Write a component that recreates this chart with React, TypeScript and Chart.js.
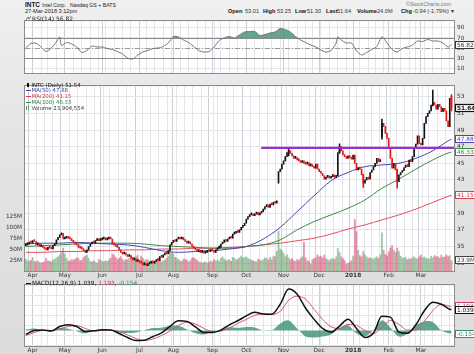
import React, { useEffect, useRef } from "react";
import { Chart, registerables } from "chart.js";

Chart.register(...registerables);

// ================= DATA =================
const START_DATE = "2017-03-28";
const END_DATE = "2018-03-27";
const HOLIDAYS = ["2017-04-14", "2017-05-29", "2017-07-04", "2017-09-04", "2017-11-23", "2017-12-25", "2018-01-01", "2018-01-15", "2018-02-19"];

// daily closes (trading days from START_DATE to END_DATE)
const closes = [
  35.2, 35.3, 35.5, 35.4,
  35.7, 35.6, 35.2, 35.3, 35.0, 35.1, 34.9, 34.7, 34.6, 34.9, 34.8, 34.7, 35.1, 35.3, 35.8, 36.1, 36.4, 36.6, 35.9,
  36.0, 36.2, 36.0, 35.9, 35.7, 35.5, 35.3, 35.2, 34.9, 34.8, 34.7, 34.5, 34.3, 34.6, 35.0, 35.3, 35.5, 35.4, 35.7, 35.8, 35.7, 35.8,
  35.9, 36.0, 35.8, 35.9, 36.0, 35.9, 35.3, 35.2, 35.0, 34.9, 34.6, 34.3, 34.1, 34.2, 34.0, 33.8, 33.9, 33.6, 33.4, 33.5, 33.2, 33.3,
  33.1, 33.0, 32.8, 32.9, 32.7, 32.9, 33.0, 33.1, 33.0, 33.2, 33.4, 33.3, 33.8, 33.7, 34.0, 34.2, 34.1, 34.5, 35.2, 35.5,
  35.7, 35.6, 35.9, 36.0, 35.9, 36.1, 35.8, 35.6, 35.4, 35.5, 35.3, 35.0, 34.8, 34.6, 34.4, 34.5, 34.3, 34.4, 34.2, 34.3, 34.5, 34.4, 34.6,
  34.5, 34.3, 34.6, 34.8, 34.9, 35.3, 35.5, 35.8, 35.6, 35.9, 36.1, 36.0, 36.5, 36.6, 36.8, 36.7, 37.0, 37.3, 37.5, 37.8,
  38.3, 38.6, 38.8, 38.9, 38.7, 38.9, 39.1, 38.8, 39.0, 39.2, 39.5, 39.8, 40.0, 39.7, 40.1, 40.0, 40.3, 40.2, 40.5, 44.0, 44.3, 44.9,
  45.3, 45.8, 46.3, 46.5, 46.2, 45.9, 45.6, 45.7, 45.4, 45.3, 45.1, 45.3, 45.0, 44.9, 45.1, 44.7, 44.8, 44.6, 44.4, 44.9, 44.3,
  44.0, 43.8, 43.5, 43.1, 43.3, 43.5, 43.2, 43.4, 43.6, 43.3, 43.5, 46.3, 47.0, 46.5, 46.0, 45.8, 45.6, 45.9, 45.7, 45.5,
  46.0, 45.0, 44.2, 44.5, 44.3, 43.6, 42.6, 43.0, 43.3, 43.1, 43.9, 44.2, 44.6, 45.0, 45.6, 45.2, 45.4, 49.8, 49.4, 48.6, 48.0,
  46.8, 45.6, 44.4, 45.0, 44.2, 42.8, 43.6, 43.9, 44.1, 44.5, 44.8, 44.6, 45.4, 45.2, 45.8, 46.8, 47.3, 48.3, 47.4,
  47.2, 48.0, 49.8, 50.6, 51.0, 51.3, 52.0, 52.3, 52.0, 51.5, 52.1, 51.8, 51.2, 51.6, 51.3, 50.1, 49.4, 52.8, 51.64,
];
const firstOpen = 35.1;
const gapOpens = [[149, 42.6], [210, 48.2], [251, 53.01]];
// notable wicks: [day, low, high]
const wicks = [[155, 45.9, 46.85], [185, 46.2, 47.35], [199, 42.1, 43.7], [219, 42.0, 44.3], [210, 47.9, 50.3], [240, 51.9, 53.8], [251, 51.3, 53.25]];

// daily volume, millions
const volumesM = [
  27, 23, 22, 25,
  31, 22, 21, 23, 20, 18, 20, 21, 29, 23, 22, 21, 25, 27, 30, 32, 36, 42, 52,
  39, 29, 23, 22, 26, 25, 27, 30, 29, 23, 25, 31, 34, 36, 29, 22, 21, 23, 20, 18, 26, 25,
  22, 21, 23, 22, 25, 29, 39, 36, 31, 26, 29, 33, 27, 23, 26, 25, 29, 34, 31, 27, 33, 36,
  20, 34, 29, 23, 26, 25, 21, 22, 23, 22, 26, 29, 22, 21, 23, 25, 29, 34, 48, 41,
  39, 31, 29, 26, 23, 22, 27, 26, 25, 21, 23, 29, 31, 27, 25, 21, 20, 18, 20, 21, 18, 20, 23,
  21, 26, 23, 25, 22, 29, 32, 27, 23, 25, 26, 22, 31, 29, 25, 27, 30, 34, 29, 31,
  32, 29, 26, 25, 23, 22, 21, 27, 25, 23, 26, 30, 29, 25, 31, 26, 34, 32, 45, 91, 50, 46,
  40, 32, 37, 30, 26, 28, 24, 22, 26, 24, 28, 32, 65, 30, 24, 22, 16, 26, 28, 30, 37,
  32, 34, 30, 36, 28, 26, 24, 27, 29, 26, 32, 51, 42, 32, 28, 24, 16, 18, 20, 24,
  34, 117, 90, 47, 35, 32, 44, 37, 32, 29, 30, 28, 27, 30, 32, 29, 37, 87, 47, 38, 34,
  44, 52, 58, 47, 42, 52, 44, 34, 30, 29, 31, 26, 28, 27, 30, 32, 29, 27, 32,
  36, 30, 32, 29, 28, 27, 34, 30, 35, 32, 33, 29, 36, 31, 32, 37, 33, 35, 24,
];

// moving averages sampled on trading-day index
const maDays = [0, 10, 20, 30, 40, 50, 60, 70, 80, 90, 100, 110, 120, 130, 140, 150, 160, 170, 180, 190, 200, 210, 220, 230, 240, 250, 251];
const ma50 = [35.3, 35.4, 35.4, 35.5, 35.4, 35.3, 35.2, 34.9, 34.5, 34.3, 34.4, 34.5, 34.7, 35.0, 35.9, 37.3, 39.2, 41.1, 42.9, 43.9, 44.6, 44.8, 45.0, 45.6, 46.5, 47.8, 47.88];
const ma100 = [35.0, 35.1, 35.2, 35.3, 35.4, 35.4, 35.4, 35.3, 35.1, 35.0, 34.9, 34.8, 34.8, 35.0, 35.2, 35.8, 37.0, 38.0, 38.8, 39.6, 40.6, 42.0, 43.1, 44.3, 45.4, 46.3, 46.33];
const ma200 = [34.3, 34.3, 34.4, 34.4, 34.5, 34.5, 34.6, 34.6, 34.7, 34.7, 34.8, 34.8, 34.9, 35.0, 35.2, 35.4, 35.7, 36.0, 36.5, 37.1, 37.6, 38.2, 38.8, 39.5, 40.3, 41.1, 41.15];

const trendStartDay = 138.8;
const trendLevel = 46.85;

const rsiDays = [0, 3, 6, 9, 12, 15, 18, 20, 21, 24, 27, 30, 33, 36, 39, 42, 45, 48, 51, 54, 57, 60, 63, 66, 69, 72, 75, 78, 81, 84, 87, 90, 93, 96, 99, 102, 105, 108, 111, 114, 117, 120, 123, 126, 129, 132, 135, 138, 141, 144, 147, 150, 153, 156, 159, 162, 165, 168, 171, 174, 177, 180, 183, 184, 186, 189, 192, 195, 198, 201, 204, 207, 210, 213, 216, 219, 222, 225, 228, 231, 234, 237, 240, 243, 246, 249, 251];
const rsiValues = [50.5, 59, 59.5, 52, 43, 50, 62, 72, 55, 61, 58, 52, 41, 45, 54, 52, 52, 49, 47, 43, 38, 30, 28, 36, 42, 45, 49, 50, 53, 60, 73, 72, 66, 61, 53, 45, 42, 43, 52, 65, 70, 73, 70, 76, 82, 83, 83, 75, 77, 80, 82, 89, 87, 82, 73, 66, 61, 56, 52, 46, 42, 45, 60, 72, 66, 60, 60, 44, 36, 41, 47, 53, 72, 60, 47, 42, 49, 52, 56, 64, 63, 67, 64, 64, 60, 52, 56.82];

const macdDays = [0, 5, 10, 15, 20, 25, 30, 35, 40, 45, 50, 55, 60, 65, 70, 75, 80, 85, 90, 95, 100, 105, 110, 115, 120, 125, 130, 135, 140, 145, 150, 155, 160, 165, 170, 175, 180, 185, 190, 195, 200, 205, 210, 215, 220, 225, 230, 235, 240, 245, 250, 251];
const macdValues = [-0.2, 0.0, 0.02, -0.03, 0.2, 0.28, 0.2, -0.05, -0.02, 0.03, 0.02, -0.15, -0.35, -0.5, -0.48, -0.3, -0.12, 0.2, 0.48, 0.45, 0.18, -0.1, -0.1, 0.02, 0.28, 0.48, 0.72, 0.9, 0.82, 0.8, 1.3, 2.05, 1.8, 1.1, 0.55, 0.1, -0.08, 0.22, 0.56, 0.1, -0.35, -0.13, 0.7, 0.66, -0.08, -0.14, 0.28, 0.98, 1.4, 1.3, 1.05, 1.039];
const signalValues = [-0.25, -0.1, 0.0, 0.0, 0.08, 0.2, 0.24, 0.1, -0.02, 0.0, 0.02, -0.05, -0.22, -0.4, -0.5, -0.42, -0.25, -0.03, 0.25, 0.4, 0.32, 0.1, -0.05, -0.03, 0.12, 0.35, 0.55, 0.75, 0.82, 0.8, 0.95, 1.5, 1.7, 1.55, 1.05, 0.55, 0.18, 0.1, 0.3, 0.25, 0.0, -0.15, 0.15, 0.5, 0.3, 0.02, 0.02, 0.45, 0.98, 1.3, 1.2, 1.193];
const histValues = [0.05, 0.1, 0.02, -0.03, 0.12, 0.08, -0.04, -0.15, 0.0, 0.03, 0.0, -0.1, -0.13, -0.1, 0.02, 0.12, 0.13, 0.23, 0.23, 0.05, -0.14, -0.2, -0.05, 0.05, 0.16, 0.13, 0.17, 0.15, 0.0, 0.0, 0.35, 0.5, 0.1, -0.3, -0.35, -0.3, -0.2, 0.12, 0.26, -0.15, -0.3, 0.02, 0.5, 0.14, -0.3, -0.16, 0.26, 0.45, 0.42, 0.0, -0.15, -0.154];

const priceTicks = [33, 34, 35, 36, 37, 38, 39, 40, 41, 42, 43, 44, 45, 46, 47, 48, 49, 50, 51, 52, 53, 54];
const volTicksM = [25, 50, 75, 100, 125];
const rsiTicks = [10, 20, 30, 40, 50, 60, 70, 80, 90];
const rsiLabels = [10, 30, 50, 70, 90];
const macdTicks = [-0.75, -0.5, -0.25, 0, 0.25, 0.5, 0.75, 1, 1.25, 1.5, 1.75, 2];
const macdLabels = [-0.5, 0, 0.5, 1, 1.5, 2];

// ================= SETUP =================
const X_MIN = -0.5;
const X_MAX = 252.5;
const MONTHS = ["Jan", "Feb", "Mar", "Apr", "May", "Jun", "Jul", "Aug", "Sep", "Oct", "Nov", "Dec"];
const FONT = "DejaVu Sans";
const GRID = "#e2e6eb";
const GRID_MONTH = "#c9cfd7";
const UP = "#111111";
const DOWN = "#e3161c";
const TEAL = "rgba(72,150,124,0.85)";

function tradingDays() {
  const out: Date[] = [];
  const hol = new Set(HOLIDAYS);
  let t = Date.parse(START_DATE + "T00:00:00Z");
  const end = Date.parse(END_DATE + "T00:00:00Z");
  while (t <= end) {
    const d = new Date(t);
    const wd = d.getUTCDay();
    if (wd !== 0 && wd !== 6 && !hol.has(d.toISOString().slice(0, 10))) out.push(d);
    t += 86400000;
  }
  return out;
}

const DATES = tradingDays();
const N = Math.min(DATES.length, closes.length);
const monthTicks = new Map<number, string>();
const gridTickValues: number[] = [];
for (let i = 1; i < N; i++) {
  const d = DATES[i];
  const p = DATES[i - 1];
  const newMonth = d.getUTCMonth() !== p.getUTCMonth();
  const newWeek = d.getUTCDay() < p.getUTCDay();
  if (newMonth) monthTicks.set(i, d.getUTCMonth() === 0 ? String(d.getUTCFullYear()) : MONTHS[d.getUTCMonth()]);
  if (newMonth || newWeek) gridTickValues.push(i);
}

const opens = closes.slice(0, N).map((c, i) => {
  const g = gapOpens.find((o) => o[0] === i);
  if (g) return g[1];
  return i === 0 ? firstOpen : closes[i - 1];
});
const isUp = (i: number) => closes[i] >= opens[i];

function xScale(showLabels: boolean) {
  return {
    type: "linear",
    min: X_MIN,
    max: X_MAX,
    offset: false,
    afterBuildTicks: (s: any) => {
      s.ticks = gridTickValues.map((v) => ({ value: v }));
    },
    afterFit: (s: any) => {
      s.height = showLabels ? 8 : 0;
    },
    border: { display: false },
    grid: {
      drawTicks: false,
      color: (c: any) => (c.tick && monthTicks.has(c.tick.value) ? GRID_MONTH : GRID),
      lineWidth: 1,
    },
    ticks: {
      display: showLabels,
      autoSkip: false,
      maxRotation: 0,
      minRotation: 0,
      padding: 1,
      color: "#333",
      font: (c: any) => ({ family: FONT, size: 5.8, weight: c.tick && c.tick.label === "2018" ? "bold" : "normal" }),
      callback: (v: any) => monthTicks.get(v) ?? "",
    },
  };
}

function yRight(min: number, max: number, ticks: number[], labels: number[], fmt: (v: number) => string) {
  return {
    type: "linear",
    position: "right",
    min,
    max,
    afterBuildTicks: (s: any) => {
      s.ticks = ticks.map((v) => ({ value: v }));
    },
    afterFit: (s: any) => {
      s.width = 20;
    },
    border: { display: false },
    grid: { drawTicks: false, color: GRID },
    ticks: {
      padding: 3,
      color: "#333",
      font: { family: FONT, size: 5.8 },
      callback: (v: any) => (labels.some((l) => Math.abs(l - v) < 1e-9) ? fmt(v) : ""),
    },
  };
}

const panelPlugin = {
  id: "panel",
  beforeDraw(chart: any) {
    const { ctx, chartArea: a } = chart;
    ctx.save();
    ctx.fillStyle = "#ffffff";
    ctx.fillRect(a.left, a.top, a.right - a.left, a.bottom - a.top);
    ctx.restore();
  },
  afterDraw(chart: any) {
    const { ctx, chartArea: a } = chart;
    ctx.save();
    ctx.strokeStyle = "#8c8c8c";
    ctx.lineWidth = 1;
    ctx.strokeRect(Math.round(a.left) - 0.5, Math.round(a.top) - 0.5, Math.round(a.right - a.left) + 1, Math.round(a.bottom - a.top) + 1);
    ctx.restore();
  },
};

function refLinesPlugin(axis: string, lines: { value: number; color: string; dash?: number[] }[]) {
  return {
    id: "refLines",
    beforeDatasetsDraw(chart: any) {
      const { ctx, chartArea: a } = chart;
      const s = chart.scales[axis];
      lines.forEach((l) => {
        const y = Math.round(s.getPixelForValue(l.value)) + 0.5;
        ctx.save();
        ctx.strokeStyle = l.color;
        ctx.lineWidth = 1;
        ctx.setLineDash(l.dash || []);
        ctx.beginPath();
        ctx.moveTo(a.left, y);
        ctx.lineTo(a.right, y);
        ctx.stroke();
        ctx.restore();
      });
    },
  };
}

function boxesPlugin(items: { axis: string; value: number; text: string; color: string; bold?: boolean }[]) {
  return {
    id: "boxes",
    afterDraw(chart: any) {
      const { ctx, chartArea: a } = chart;
      items.forEach((it) => {
        const y = Math.round(chart.scales[it.axis].getPixelForValue(it.value));
        ctx.save();
        ctx.font = `${it.bold ? "bold " : ""}5.8px "${FONT}"`;
        const w = Math.ceil(ctx.measureText(it.text).width) + 4;
        const x = Math.round(a.right) + 1;
        ctx.fillStyle = "#ffffff";
        ctx.fillRect(x, y - 4, w, 8);
        ctx.strokeStyle = it.color;
        ctx.lineWidth = it.bold ? 1.2 : 1;
        ctx.strokeRect(x + 0.5, y - 3.5, w - 1, 7);
        ctx.fillStyle = it.color;
        ctx.textBaseline = "middle";
        ctx.fillText(it.text, x + 2, y + 0.5);
        ctx.restore();
      });
    },
  };
}

const baseOptions = (padding: any) => ({
  responsive: false,
  animation: false,
  devicePixelRatio: 1,
  events: [],
  layout: { padding },
  plugins: { legend: { display: false }, tooltip: { enabled: false } },
});

function rsiConfig(): any {
  return {
    type: "line",
    data: {
      datasets: [
        {
          data: rsiDays.map((d, i) => ({ x: d, y: rsiValues[i] })),
          borderColor: "#747474",
          borderWidth: 1,
          pointRadius: 0,
          tension: 0.25,
          fill: { value: 70, above: TEAL, below: "rgba(0,0,0,0)" },
        },
      ],
    },
    options: {
      ...baseOptions({ left: 25, top: 1, bottom: 1, right: 0 }),
      scales: {
        x: xScale(false),
        y: yRight(-1, 103, rsiTicks, rsiLabels, (v) => String(v)),
      },
    },
    plugins: [
      panelPlugin,
      refLinesPlugin("y", [
        { value: 70, color: "#8a8a8a" },
        { value: 30, color: "#8a8a8a" },
        { value: 50, color: "#9a9a9a", dash: [5, 2, 1, 2] },
      ]),
      boxesPlugin([{ axis: "y", value: 56.82, text: "56.82", color: "#333" }]),
    ],
  };
}

function mainConfig(): any {
  const idx = Array.from({ length: N }, (_, i) => i);
  return {
    type: "bar",
    data: {
      datasets: [
        {
          type: "line",
          data: [
            { x: trendStartDay, y: trendLevel },
            { x: X_MAX, y: trendLevel },
          ],
          borderColor: "#9a2fcc",
          borderWidth: 2.4,
          pointRadius: 0,
          yAxisID: "y",
          order: 0,
        },
        {
          type: "bar",
          data: wicks.map((w) => ({ x: w[0], y: [w[1], w[2]] })),
          backgroundColor: wicks.map((w) => (isUp(w[0]) ? UP : DOWN)),
          barThickness: 0.9,
          grouped: false,
          yAxisID: "y",
          order: 1,
        },
        {
          type: "bar",
          data: idx.map((i) => ({ x: i, y: [opens[i], closes[i]] })),
          backgroundColor: idx.map((i) => (isUp(i) ? UP : DOWN)),
          barThickness: 1,
          minBarLength: 2,
          grouped: false,
          yAxisID: "y",
          order: 1,
        },
        {
          type: "line",
          data: maDays.map((d, i) => ({ x: d, y: ma50[i] })),
          borderColor: "#4646b4",
          borderWidth: 1,
          pointRadius: 0,
          cubicInterpolationMode: "monotone",
          yAxisID: "y",
          order: 2,
        },
        {
          type: "line",
          data: maDays.map((d, i) => ({ x: d, y: ma100[i] })),
          borderColor: "#3f8a42",
          borderWidth: 1,
          pointRadius: 0,
          cubicInterpolationMode: "monotone",
          yAxisID: "y",
          order: 2,
        },
        {
          type: "line",
          data: maDays.map((d, i) => ({ x: d, y: ma200[i] })),
          borderColor: "#e2505e",
          borderWidth: 1,
          pointRadius: 0,
          cubicInterpolationMode: "monotone",
          yAxisID: "y",
          order: 2,
        },
        {
          type: "bar",
          data: idx.map((i) => ({ x: i, y: volumesM[i] })),
          backgroundColor: idx.map((i) => (i > 0 && closes[i] < closes[i - 1] ? "rgba(212,72,108,0.58)" : "rgba(96,156,104,0.58)")),
          barThickness: 1.2,
          grouped: false,
          yAxisID: "yVol",
          order: 5,
        },
      ],
    },
    options: {
      ...baseOptions({ left: 0, top: 1, bottom: 0, right: 0 }),
      scales: {
        x: xScale(true),
        y: yRight(32.06, 54.23, priceTicks, priceTicks, (v) => String(v)),
        yVol: {
          type: "linear",
          position: "left",
          min: 0,
          max: 420,
          afterBuildTicks: (s: any) => {
            s.ticks = volTicksM.map((v) => ({ value: v }));
          },
          afterFit: (s: any) => {
            s.width = 25;
          },
          border: { display: false },
          grid: { display: false, drawTicks: false },
          ticks: {
            padding: 3,
            color: "#333",
            font: { family: FONT, size: 5.8 },
            callback: (v: any) => `${v}M`,
          },
        },
      },
    },
    plugins: [
      panelPlugin,
      boxesPlugin([
        { axis: "y", value: 41.15, text: "41.15", color: "#d9404e" },
        { axis: "y", value: 46.33, text: "46.33", color: "#3f8a42" },
        { axis: "y", value: 47.88, text: "47.88", color: "#4646b4" },
        { axis: "y", value: 51.64, text: "51.64", color: "#111", bold: true },
        { axis: "yVol", value: 23.9, text: "23.9M", color: "#444" },
      ]),
    ],
  };
}

function macdConfig(): any {
  return {
    type: "line",
    data: {
      datasets: [
        {
          data: macdDays.map((d, i) => ({ x: d, y: histValues[i] })),
          borderWidth: 0,
          borderColor: "rgba(0,0,0,0)",
          backgroundColor: TEAL,
          pointRadius: 0,
          tension: 0.3,
          fill: "origin",
          order: 3,
        },
        {
          data: macdDays.map((d, i) => ({ x: d, y: signalValues[i] })),
          borderColor: "#d45872",
          borderWidth: 1,
          pointRadius: 0,
          cubicInterpolationMode: "monotone",
          order: 2,
        },
        {
          data: macdDays.map((d, i) => ({ x: d, y: macdValues[i] })),
          borderColor: "#111",
          borderWidth: 1.5,
          pointRadius: 0,
          cubicInterpolationMode: "monotone",
          order: 1,
        },
      ],
    },
    options: {
      ...baseOptions({ left: 25, top: 1, bottom: 0, right: 0 }),
      scales: {
        x: xScale(true),
        y: yRight(-0.77, 2.23, macdTicks, macdLabels, (v) => v.toFixed(1)),
      },
    },
    plugins: [
      panelPlugin,
      boxesPlugin([
        { axis: "y", value: 1.193, text: "1.193", color: "#c8405a" },
        { axis: "y", value: 1.039, text: "1.039", color: "#111" },
        { axis: "y", value: -0.154, text: "-0.154", color: "#2f8f74" },
      ]),
    ],
  };
}

function ChartCanvas({ top, height, make }: { top: number; height: number; make: () => any }) {
  const ref = useRef<HTMLCanvasElement>(null);
  useEffect(() => {
    const chart = new Chart(ref.current as HTMLCanvasElement, make());
    return () => chart.destroy();
  }, []);
  return (
    <canvas
      ref={ref}
      width={474}
      height={height}
      style={{ position: "absolute", left: 0, top, width: 474, height }}
    />
  );
}

function T({ x, y, size = 5.8, color = "#222", weight = "normal", family = FONT, children }: any) {
  return (
    <span
      style={{
        position: "absolute",
        left: x,
        top: y - size * 0.62,
        fontSize: size,
        lineHeight: 1.2,
        color,
        fontWeight: weight,
        fontFamily: family,
        whiteSpace: "nowrap",
      }}
    >
      {children}
    </span>
  );
}

function Dash({ x, y, color, w = 5, h = 1.4 }: any) {
  return <span style={{ position: "absolute", left: x, top: y - h / 2, width: w, height: h, background: color }} />;
}

const SANS = '"Liberation Sans", Arial, sans-serif';

export default function App() {
  return (
    <div
      style={{
        position: "fixed",
        left: 0,
        top: 0,
        width: 474,
        height: 354,
        overflow: "hidden",
        background: "linear-gradient(to bottom, #f0f0f0 0%, #e4e4e4 40%, #dcdcdc 100%)",
      }}
    >
      <ChartCanvas top={15} height={65} make={rsiConfig} />
      <ChartCanvas top={80} height={199} make={mainConfig} />
      <ChartCanvas top={279} height={75} make={macdConfig} />

      {/* header */}
      <T x={25} y={5} size={6.4} weight="bold" color="#111" family={SANS}>INTC</T>
      <T x={42} y={5.4} size={5.2} color="#222" family={SANS}>Intel Corp.</T>
      <T x={70} y={5.4} size={5.2} color="#222" family={SANS}>Nasdaq GS + BATS</T>
      <T x={25} y={11.6} size={5.6} color="#222" family={SANS}>27-Mar-2018 3:12pm</T>
      <T x={406} y={4.6} size={5.4} color="#777" family={SANS}>©StockCharts.com</T>

      <T x={228} y={11.6} size={5.6} weight="bold" color="#111" family={SANS}>Open</T>
      <T x={245} y={11.6} size={5.6} color="#333" family={SANS}>53.01</T>
      <T x={263} y={11.6} size={5.6} weight="bold" color="#111" family={SANS}>High</T>
      <T x={277} y={11.6} size={5.6} color="#333" family={SANS}>53.25</T>
      <T x={295} y={11.6} size={5.6} weight="bold" color="#111" family={SANS}>Low</T>
      <T x={307} y={11.6} size={5.6} color="#333" family={SANS}>51.30</T>
      <T x={326} y={11.6} size={5.6} weight="bold" color="#111" family={SANS}>Last</T>
      <T x={337} y={11.6} size={5.6} color="#333" family={SANS}>51.64</T>
      <T x={357} y={11.6} size={5.6} weight="bold" color="#111" family={SANS}>Volume</T>
      <T x={377} y={11.6} size={5.6} color="#333" family={SANS}>24.0M</T>
      <T x={401} y={11.6} size={5.6} weight="bold" color="#111" family={SANS}>Chg</T>
      <T x={413} y={11.6} size={5.6} color="#333" family={SANS}>-0.94 (-1.79%)</T>
      <T x={451} y={11.4} size={5.6} color="#333" family={SANS}>▾</T>

      {/* RSI legend */}
      <svg style={{ position: "absolute", left: 26, top: 16 }} width={5} height={5}>
        <polyline points="0,4 2,1 3,3 5,0" fill="none" stroke="#555" strokeWidth={0.8} />
      </svg>
      <T x={32} y={18.3} size={6}>RSI(14) 56.82</T>

      {/* main legend */}
      <span style={{ position: "absolute", left: 27, top: 82.5, width: 2, height: 4.5, background: "#111" }} />
      <T x={31.5} y={85} size={5.4} color="#111">INTC (Daily) 51.54</T>
      <Dash x={26} y={90.7} color="#4646b4" />
      <T x={31.5} y={90.7} size={5.4} color="#3c3caa">MA(50) 47.88</T>
      <Dash x={26} y={96.3} color="#d9404e" />
      <T x={31.5} y={96.3} size={5.4} color="#d03a48">MA(200) 41.15</T>
      <Dash x={26} y={102.2} color="#3f8a42" />
      <T x={31.5} y={102.2} size={5.4} color="#2f7f33">MA(100) 46.33</T>
      <span style={{ position: "absolute", left: 26, top: 106, width: 1.2, height: 3.5, background: "#5a9a62" }} />
      <span style={{ position: "absolute", left: 28, top: 105, width: 1.2, height: 4.5, background: "#5a9a62" }} />
      <T x={31.5} y={108} size={5.4} color="#333">Volume 23,904,554</T>

      {/* MACD legend */}
      <Dash x={26} y={283.3} color="#111" w={5} h={1.6} />
      <T x={32} y={283.3} size={5.8} color="#111">
        MACD(12,26,9) 1.039, <span style={{ color: "#c8405a" }}>1.193</span>, <span style={{ color: "#2f8f74" }}>-0.154</span>
      </T>
    </div>
  );
}
